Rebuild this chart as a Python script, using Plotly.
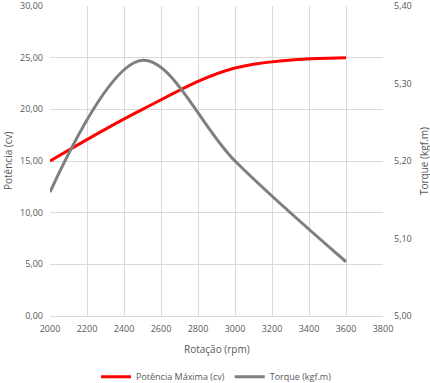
import plotly.graph_objects as go

rpm = [2000, 2500, 3000, 3600]
potencia = [15.0, 20.0, 24.0, 25.0]
torque = [5.16, 5.33, 5.20, 5.07]

x_ticks = list(range(2000, 3801, 200))

FONT = "Open Sans"
TXT = "#595959"
GRID = "#d9d9d9"

fig = go.Figure()
fig.add_trace(go.Scatter(
    x=rpm, y=potencia, name="Potência Máxima (cv)", mode="lines",
    line=dict(color="#ff0000", width=3, shape="spline", smoothing=1.0),
))
fig.add_trace(go.Scatter(
    x=rpm, y=torque, name="Torque (kgf.m)", mode="lines", yaxis="y2",
    line=dict(color="#7f7f7f", width=3, shape="spline", smoothing=1.0),
))

fig.update_layout(
    width=430, height=383,
    margin=dict(l=50, r=47, t=6, b=67, autoexpand=False),
    paper_bgcolor="white", plot_bgcolor="white",
    separators=",.",
    font=dict(family=FONT, size=9, color=TXT),
    showlegend=True,
    legend=dict(orientation="h", x=0.5, xanchor="center", y=-0.196, yanchor="middle",
                font=dict(size=9, color=TXT), itemwidth=30, tracegroupgap=0),
    xaxis=dict(range=[2000, 3800], tickvals=x_ticks, showgrid=True, gridcolor=GRID,
               gridwidth=1, zeroline=False, showline=True, linecolor=GRID,
               ticks="", automargin=False, ticklabelstandoff=4,
               ticklabeloverflow="allow"),
    yaxis=dict(range=[0, 30], dtick=5, tickformat=".2f", showgrid=True, gridcolor=GRID,
               zeroline=False, showline=False, ticks="", automargin=False,
               ticklabelstandoff=6, ticklabeloverflow="allow"),
    yaxis2=dict(range=[5.0, 5.4], dtick=0.1, tickformat=".2f", overlaying="y", side="right",
                showgrid=False, zeroline=False, showline=False, ticks="", automargin=False,
                ticklabelstandoff=10, ticklabeloverflow="allow"),
    annotations=[
        dict(text="Rotação (rpm)", xref="paper", yref="paper", x=0.5, y=(316 - 349) / 310,
             showarrow=False, xanchor="center", yanchor="middle",
             font=dict(size=10, color=TXT)),
        dict(text="Potência (cv)", xref="paper", yref="paper", x=(8 - 50) / 333, y=0.5,
             showarrow=False, textangle=-90, xanchor="center", yanchor="middle",
             font=dict(size=10, color=TXT)),
        dict(text="Torque (kgf.m)", xref="paper", yref="paper", x=(424 - 50) / 333, y=0.5,
             showarrow=False, textangle=-90, xanchor="center", yanchor="middle",
             font=dict(size=10, color=TXT)),
    ],
)

fig.write_html("out.html", config={"displayModeBar": False},
               post_script="document.body.style.margin='0px';")
